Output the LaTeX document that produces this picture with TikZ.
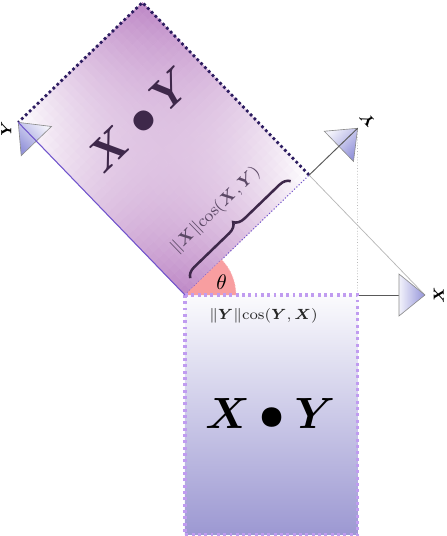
\documentclass[tikz,border=0pt]{standalone}
\usepackage{amsmath,amssymb}
\usepackage{bm}
\usepackage{xcolor}
\usepackage{tikz}
\usetikzlibrary{arrows.meta, positioning, calc, decorations.pathreplacing}

\definecolor{plum}{RGB}{190,136,198}
\definecolor{lavender}{RGB}{156,152,210}
\definecolor{dotlilac}{RGB}{192,156,240}
\definecolor{darkplum}{RGB}{62,40,74}
\definecolor{edgeviolet}{RGB}{112,84,204}
\definecolor{navyplum}{RGB}{44,28,96}
\definecolor{tipblue}{RGB}{148,148,218}
\definecolor{wedgepink}{RGB}{248,158,160}

\tikzset{
  axisline/.style={draw=black!65, line width=0.45pt},
  projline/.style={draw=black!28, line width=0.35pt},
  tiphead/.style={shading=axis, bottom color=tipblue, top color=tipblue!12, draw=black!45, line width=0.3pt},
  veclabel/.style={font=\scriptsize, inner sep=1pt},
}

\begin{document}
\begin{tikzpicture}
  \useasboundingbox (-3.083,-4.017) rectangle (4.367,4.917);

  % vectors and projections
  \coordinate (O) at (0,0);
  \coordinate (X) at (4,0);
  \coordinate (Y) at (44:4);
  \coordinate (Yr) at (134:4);
  \coordinate (P) at (44:2.877);   % X onto Y
  \coordinate (Q) at (2.877,0);    % Y onto X
  \coordinate (C) at ($(P)+(Yr)$);
  \coordinate (B) at (2.877,-4);
  \coordinate (D) at (0,-4);

  % lower rectangle
  \shade[top color=white!96!lavender, bottom color=lavender] (O) rectangle (B);

  % rotated rectangle, colour mixed between its corners
  \begin{scope}[shift={(O)}, rotate=44]
    \foreach \i in {0,...,23} {
      \foreach \j in {0,...,31} {
        \pgfmathsetmacro{\u}{(\i+0.5)/24}
        \pgfmathsetmacro{\v}{(\j+0.5)/32}
        \pgfmathsetmacro{\w}{100*((1-\u)*(1-\v)+\u*\v)}
        \fill[plum!\w!white, draw=plum!\w!white, line width=0.25pt]
          ({\i*2.877/24},{\j*0.125}) rectangle ({(\i+1)*2.877/24},{(\j+1)*0.125});
      }
    }
  \end{scope}
  \draw[navyplum, line width=1.3pt, dash pattern=on 1.3pt off 1.3pt] (P) -- (C) -- (Yr);
  \draw[edgeviolet, line width=0.5pt, densely dotted] (O) -- (P);

  % angle
  \fill[wedgepink] (O) -- (0.85,0) arc[start angle=0, end angle=44, radius=0.85] -- cycle;
  \draw[wedgepink!70, densely dotted] (0.85,0) arc[start angle=0, end angle=44, radius=0.85];

  % projection lines
  \draw[projline, densely dotted] (Y) -- (Q);
  \draw[projline] (X) -- (P);
  \draw[axisline] (Q) -- (X);

  \draw[dotlilac, line width=1.5pt, dash pattern=on 1.4pt off 1.6pt] (O) -- (Q) -- (B) -- (D) -- cycle;

  % arrow heads
  \foreach \tip/\ang in {X/0, Y/44, Yr/134}
    \shade[tiphead, shading angle={90-\ang}, shift={(\tip)}, rotate=\ang]
      (0,0) -- (-0.433,0.35) -- (-0.433,-0.35) -- cycle;

  \draw[axisline] (P) -- (Y);
  \draw[edgeviolet, line width=0.5pt] (O) -- (Yr);

  % labels
  \node[veclabel, rotate=90] (xl) at ($(X)+(0.23,0)$) {$\bm{X}$};
  \node[veclabel, rotate=134] (yl) at ($(Y)+(44:0.22)$) {$\bm{Y}$};
  \node[veclabel, rotate=90] (yrl) at ($(Yr)+(-0.2,-0.1)$) {$\bm{Y}$};
  \node (th) at (0.61,0.22) {$\theta$};

  % brace
  \draw[darkplum, line width=1.2pt, decorate, decoration={brace, amplitude=5pt}]
    ($(O)!0.09!(P)+(134:0.14)$) -- ($(O)!0.9!(P)+(134:0.14)$);
  \node[darkplum!85, rotate=44, font=\footnotesize] (bl) at ($(O)!0.47!(P)+(134:0.66)$)
    {$\|\bm{X}\|\mathrm{cos}(\bm{X},\bm{Y})$};

  \node[darkplum, rotate=44, font=\huge] (upxy) at (-0.75,2.92) {$\bm{X\bullet Y}$};
  \node[black!85, font=\scriptsize] (lowl) at (1.31,-0.35) {$\|\bm{Y}\|\mathrm{cos}(\bm{Y},\bm{X})$};
  \node[font=\huge] (lowxy) at (1.42,-1.97) {$\bm{X\bullet Y}$};
\end{tikzpicture}
\end{document}
